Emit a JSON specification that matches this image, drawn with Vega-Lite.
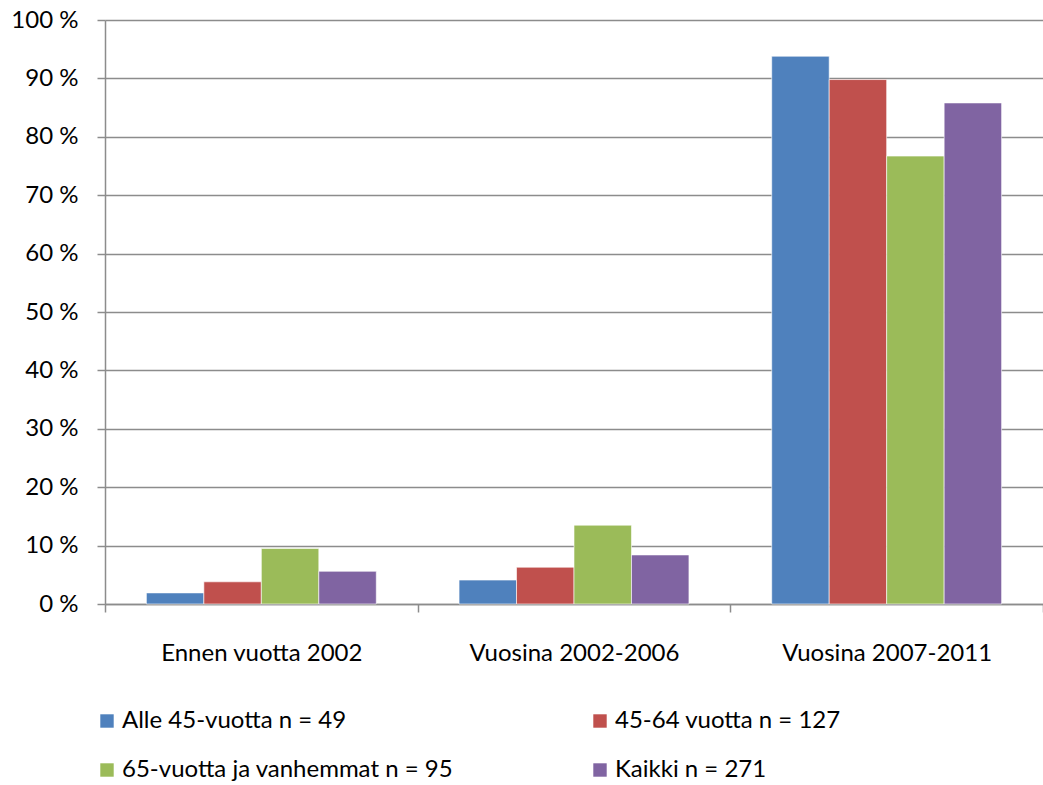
{
  "$schema": "https://vega.github.io/schema/vega-lite/v6.json",
  "width": 938,
  "height": 584,
  "autosize": {"type": "none"},
  "padding": {"left": 105, "top": 20, "right": 0, "bottom": 181},
  "background": "white",
  "config": {
    "font": "Lato",
    "view": {"stroke": null},
    "axis": {"labelFont": "Lato", "labelFontSize": 24, "labelColor": "black", "labelLimit": 400}
  },
  "data": {
    "values": [
      {"period": "Ennen vuotta  2002", "group": "Alle 45-vuotta n = 49", "value": 1.9},
      {"period": "Ennen vuotta  2002", "group": "45-64 vuotta  n = 127", "value": 3.8},
      {"period": "Ennen vuotta  2002", "group": "65-vuotta ja vanhemmat  n = 95", "value": 9.5},
      {"period": "Ennen vuotta  2002", "group": "Kaikki n = 271", "value": 5.6},
      {"period": "Vuosina 2002-2006", "group": "Alle 45-vuotta n = 49", "value": 4.1},
      {"period": "Vuosina 2002-2006", "group": "45-64 vuotta  n = 127", "value": 6.3},
      {"period": "Vuosina 2002-2006", "group": "65-vuotta ja vanhemmat  n = 95", "value": 13.5},
      {"period": "Vuosina 2002-2006", "group": "Kaikki n = 271", "value": 8.4},
      {"period": "Vuosina 2007-2011", "group": "Alle 45-vuotta n = 49", "value": 93.8},
      {"period": "Vuosina 2007-2011", "group": "45-64 vuotta  n = 127", "value": 89.8},
      {"period": "Vuosina 2007-2011", "group": "65-vuotta ja vanhemmat  n = 95", "value": 76.7},
      {"period": "Vuosina 2007-2011", "group": "Kaikki n = 271", "value": 85.8}
    ]
  },
  "mark": {"type": "bar", "stroke": "white", "strokeOpacity": 0.6, "strokeWidth": 1},
  "encoding": {
    "x": {
      "field": "period",
      "type": "nominal",
      "sort": null,
      "title": null,
      "scale": {"paddingInner": 0, "paddingOuter": 0},
      "axis": {
        "labelAngle": 0,
        "tickBand": "extent",
        "tickSize": 8,
        "tickColor": "#8c8c8c",
        "tickWidth": 1.5,
        "domainColor": "#8c8c8c",
        "domainWidth": 1.5,
        "labelPadding": 29
      }
    },
    "xOffset": {
      "field": "group",
      "type": "nominal",
      "sort": ["Alle 45-vuotta n = 49", "45-64 vuotta  n = 127", "65-vuotta ja vanhemmat  n = 95", "Kaikki n = 271"],
      "scale": {"paddingInner": 0, "paddingOuter": 0.72}
    },
    "y": {
      "field": "value",
      "type": "quantitative",
      "title": null,
      "scale": {"domain": [0, 100], "nice": false},
      "axis": {
        "values": [0, 10, 20, 30, 40, 50, 60, 70, 80, 90, 100],
        "labelExpr": "datum.value + ' %'",
        "tickSize": 8,
        "tickColor": "#8c8c8c",
        "tickWidth": 1.5,
        "domainColor": "#8c8c8c",
        "domainWidth": 1.5,
        "gridColor": "#8c8c8c",
        "gridWidth": 1.5,
        "labelPadding": 19
      }
    },
    "color": {
      "field": "group",
      "type": "nominal",
      "title": null,
      "scale": {
        "domain": ["Alle 45-vuotta n = 49", "65-vuotta ja vanhemmat  n = 95", "45-64 vuotta  n = 127", "Kaikki n = 271"],
        "range": ["#4F81BD", "#9BBB59", "#C0504D", "#8064A2"]
      },
      "legend": {
        "orient": "none",
        "legendX": -10,
        "legendY": 689,
        "columns": 2,
        "columnPadding": 128,
        "rowPadding": 25,
        "symbolType": "square",
        "symbolSize": 180,
        "symbolStrokeWidth": 0,
        "labelFont": "Lato",
        "labelFontSize": 24,
        "labelColor": "black",
        "labelOffset": 3,
        "labelLimit": 600
      }
    }
  }
}
